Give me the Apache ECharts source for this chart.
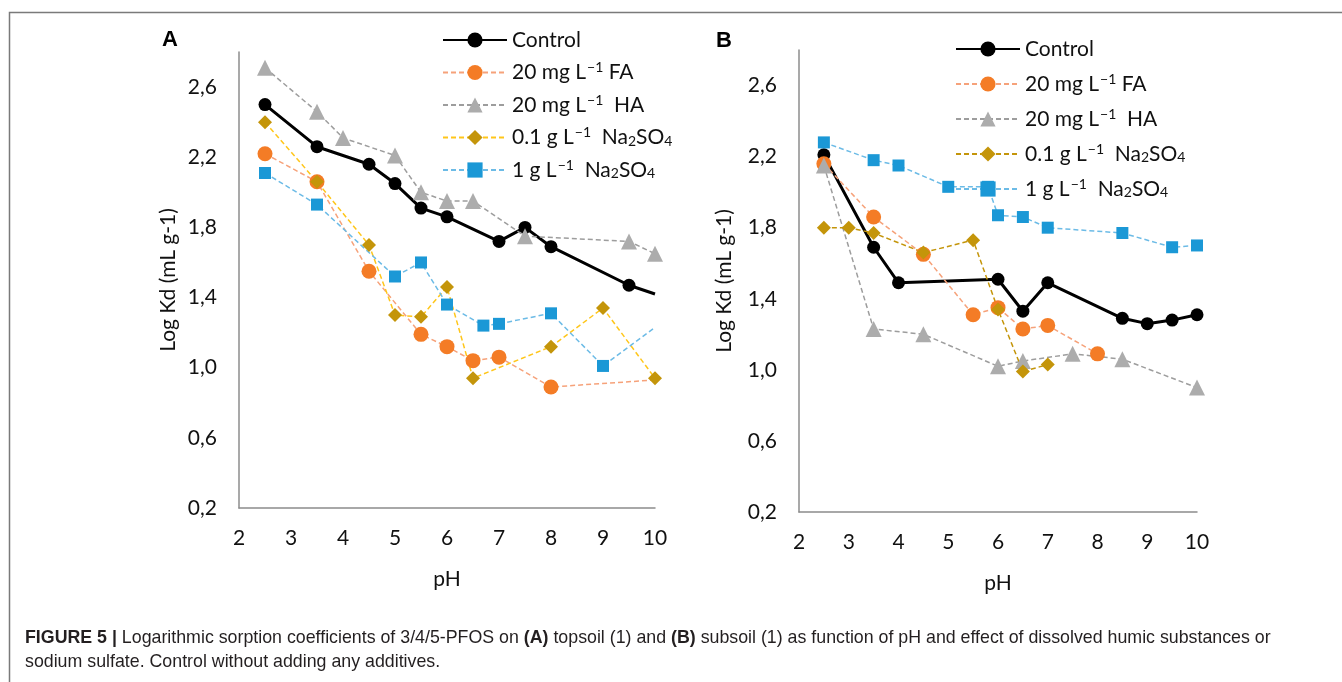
<!DOCTYPE html>
<html>
<head>
<meta charset="utf-8">
<script src="https://cdn.jsdelivr.net/npm/echarts@6/dist/echarts.min.js"></script>
<style>html,body{margin:0;background:#fff}#chart{width:1342px;height:682px}</style>
</head>
<body>
<div id="chart"></div>
<script>
// panel A - topsoil
const phA_ctrl = [2.5, 3.5, 4.5, 5, 5.5, 6, 7, 7.5, 8, 9.5, 10];
const kdA_ctrl = [2.50, 2.26, 2.16, 2.05, 1.91, 1.86, 1.72, 1.80, 1.69, 1.47, 1.42];
const phA_fa = [2.5, 3.5, 4.5, 5.5, 6, 6.5, 7, 8, 10];
const kdA_fa = [2.22, 2.06, 1.55, 1.19, 1.12, 1.04, 1.06, 0.89, 0.93];
const phA_ha = [2.5, 3.5, 4, 5, 5.5, 6, 6.5, 7.5, 9.5, 10];
const kdA_ha = [2.71, 2.46, 2.31, 2.21, 2.00, 1.95, 1.95, 1.75, 1.72, 1.65];
const phA_na01 = [2.5, 3.5, 4.5, 5, 5.5, 6, 6.5, 8, 9, 10];
const kdA_na01 = [2.40, 2.06, 1.70, 1.30, 1.29, 1.46, 0.94, 1.12, 1.34, 0.94];
const phA_na1 = [2.5, 3.5, 5, 5.5, 6, 6.7, 7, 8, 9, 10];
const kdA_na1 = [2.11, 1.93, 1.52, 1.60, 1.36, 1.24, 1.25, 1.31, 1.01, 1.23];

// panel B - subsoil
const phB_ctrl = [2.5, 3.5, 4, 6, 6.5, 7, 8.5, 9, 9.5, 10];
const kdB_ctrl = [2.21, 1.69, 1.49, 1.51, 1.33, 1.49, 1.29, 1.26, 1.28, 1.31];
const phB_fa = [2.5, 3.5, 4.5, 5.5, 6, 6.5, 7, 8];
const kdB_fa = [2.16, 1.86, 1.65, 1.31, 1.35, 1.23, 1.25, 1.09];
const phB_ha = [2.5, 3.5, 4.5, 6, 6.5, 7.5, 8.5, 10];
const kdB_ha = [2.15, 1.23, 1.20, 1.02, 1.05, 1.09, 1.06, 0.90];
const phB_na01 = [2.5, 3, 3.5, 4.5, 5.5, 6, 6.5, 7];
const kdB_na01 = [1.80, 1.80, 1.77, 1.66, 1.73, 1.34, 0.99, 1.03];
const phB_na1 = [2.5, 3.5, 4, 5, 5.8, 6, 6.5, 7, 8.5, 9.5, 10];
const kdB_na1 = [2.28, 2.18, 2.15, 2.03, 2.03, 1.87, 1.86, 1.80, 1.77, 1.69, 1.70];

const names = ['Control', '20 mg L-1 FA', '20 mg L-1 HA', '0.1 g L-1 Na2SO4', '1 g L-1 Na2SO4'];
const legendText = {
    'Control': '{t|Control}',
    '20 mg L-1 FA': '{t|20 mg L}{sup|−1}{t| FA}',
    '20 mg L-1 HA': '{t|20 mg L}{sup|−1}{t|  HA}',
    '0.1 g L-1 Na2SO4': '{t|0.1 g L}{sup|−1}{t|  Na}{sub|2}{t|SO}{sub|4}',
    '1 g L-1 Na2SO4': '{t|1 g L}{sup|−1}{t|  Na}{sub|2}{t|SO}{sub|4}'
};

const FONT = 'Lato, "Open Sans", sans-serif';
const chart = echarts.init(document.getElementById('chart'));

function pts(xs, ys, noLastMarker) {
    return xs.map((x, i) => {
        const d = { value: [x, ys[i]] };
        if (noLastMarker && i === xs.length - 1) d.symbol = 'none';
        return d;
    });
}

function makeSeries(panel, idx, name, xs, ys, look, noLast) {
    return {
        type: 'line',
        name: panel + name,
        xAxisIndex: idx, yAxisIndex: idx,
        data: pts(xs, ys, noLast),
        symbol: look.symbol,
        symbolSize: look.size,
        showAllSymbol: true,
        lineStyle: { color: look.line, width: look.width || 1.5, type: look.dash ? [5, 3] : 'solid' },
        itemStyle: { color: look.marker },
        animation: false
    };
}

const lk = {
    ctrl: { symbol: 'circle', size: 13, line: '#000', marker: '#000', width: 3 },
    fa: { symbol: 'circle', size: 15, line: '#f6a27a', marker: '#f47c26', dash: true },
    ha: { symbol: 'triangle', size: 16, line: '#9d9d9d', marker: '#acacac', dash: true },
    naA: { symbol: 'diamond', size: 14, line: '#ffc61a', marker: '#c4950a', dash: true },
    naB: { symbol: 'diamond', size: 14, line: '#c4950a', marker: '#c4950a', dash: true },
    na1: { symbol: 'rect', size: 12, line: '#6cbbe6', marker: '#1b98d6', dash: true }
};

const series = [
    makeSeries('A:', 0, names[0], phA_ctrl, kdA_ctrl, lk.ctrl, true),
    makeSeries('A:', 0, names[1], phA_fa, kdA_fa, lk.fa, true),
    makeSeries('A:', 0, names[2], phA_ha, kdA_ha, lk.ha),
    makeSeries('A:', 0, names[3], phA_na01, kdA_na01, lk.naA),
    makeSeries('A:', 0, names[4], phA_na1, kdA_na1, lk.na1, true),
    makeSeries('B:', 1, names[0], phB_ctrl, kdB_ctrl, lk.ctrl),
    makeSeries('B:', 1, names[1], phB_fa, kdB_fa, lk.fa),
    makeSeries('B:', 1, names[2], phB_ha, kdB_ha, lk.ha),
    makeSeries('B:', 1, names[3], phB_na01, kdB_na01, lk.naB),
    makeSeries('B:', 1, names[4], phB_na1, kdB_na1, lk.na1)
];

const axisLine = { show: true, lineStyle: { color: '#8c8c8c', width: 1.5 } };
const labelStyle = { color: '#111', fontSize: 21, fontFamily: FONT };
const rich = {
    t: { fontSize: 21, fontFamily: FONT, color: '#111' },
    sup: { fontSize: 14, fontFamily: FONT, color: '#111', padding: [0, 0, 10, 1] },
    sub: { fontSize: 14, fontFamily: FONT, color: '#111', padding: [7, 0, 0, 0] }
};

function xAx(i, gap) {
    return {
        gridIndex: i, type: 'value', min: 2, max: 10, interval: 1,
        axisLine, axisTick: { show: false }, splitLine: { show: false },
        axisLabel: Object.assign({ margin: 20 }, labelStyle),
        name: 'pH', nameLocation: 'middle', nameGap: gap,
        nameTextStyle: { color: '#111', fontSize: 21, fontFamily: FONT }
    };
}
function yAx(i, gap) {
    return {
        gridIndex: i, type: 'value', min: 0.2, max: 2.8, interval: 0.4,
        axisLine, axisTick: { show: false }, splitLine: { show: false },
        axisLabel: Object.assign({ margin: 22, showMaxLabel: false,
            formatter: v => v.toFixed(1).replace('.', ',') }, labelStyle),
        name: 'Log Kd (mL g-1)', nameLocation: 'middle', nameGap: gap,
        nameTextStyle: { color: '#111', fontSize: 21, fontFamily: FONT }
    };
}
function legend(panel, left, top, gap) {
    return {
        data: names.map(n => panel + n),
        orient: 'vertical', left, top,
        itemWidth: 64, itemHeight: 19, itemGap: gap,
        selectedMode: false,
        formatter: n => legendText[n.slice(2)],
        textStyle: { rich, lineHeight: 24 }
    };
}

chart.setOption({
    animation: false,
    grid: [
        { left: 239, right: 687, top: 52, bottom: 174 },
        { left: 799, right: 145, top: 50, bottom: 170 }
    ],
    xAxis: [xAx(0, 61), xAx(1, 61)],
    yAxis: [yAx(0, 60), yAx(1, 64)],
    legend: [legend('A:', 437, 23, 8.5), legend('B:', 950, 32, 11)],
    series,
    graphic: [
        { type: 'polyline', shape: { points: [[9.5, 682], [9.5, 12.5], [1342, 12.5]] },
          style: { stroke: '#7a7a7a', lineWidth: 1.5, fill: null } },
        { type: 'text', left: 162, top: 29, style: { text: 'A', font: 'bold 22px "Liberation Sans", Arial, sans-serif', fill: '#000' } },
        { type: 'text', left: 716, top: 30, style: { text: 'B', font: 'bold 22px "Liberation Sans", Arial, sans-serif', fill: '#000' } },
        { type: 'text', left: 25, top: 626, style: {
            text: '{b|FIGURE 5 |} Logarithmic sorption coefficients of 3/4/5-PFOS on {b|(A)} topsoil (1) and {b|(B)} subsoil (1) as function of pH and effect of dissolved humic substances or\nsodium sulfate. Control without adding any additives.',
            font: '17.8px "Liberation Sans", Arial, sans-serif', fill: '#231f20', lineHeight: 24,
            rich: { b: { fontWeight: 'bold', fontSize: 17.8, fontFamily: '"Liberation Sans", Arial, sans-serif', fill: '#231f20' } }
        } }
    ]
});
</script>
</body>
</html>
